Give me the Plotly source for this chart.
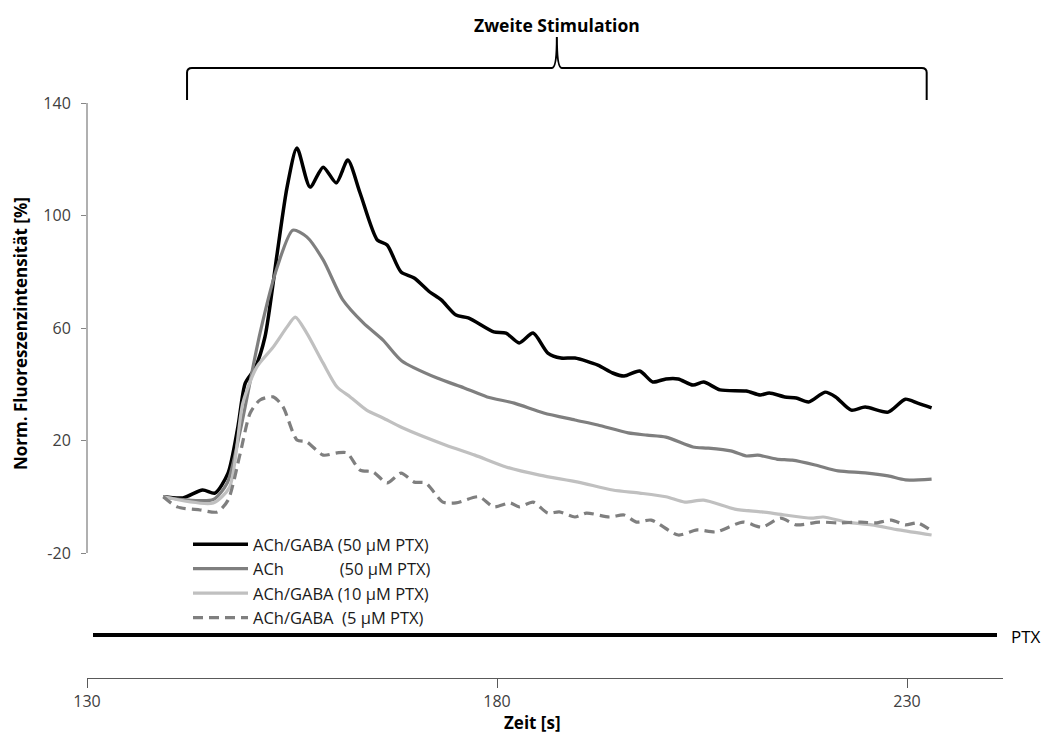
import plotly.graph_objects as go

# ---------------- data (time in s, normalised fluorescence in %) ----------------
t_gaba50 = [139.3, 141.7, 144.1, 145.6, 147.2, 148.4, 149.3, 150.5, 151.7, 153.2, 154.4, 155.6,
            157.2, 158.8, 160.4, 161.8, 163.3, 165.4, 166.6, 168.3, 169.9, 171.8, 173.2, 175.0,
            176.5, 179.6, 181.1, 182.7, 184.4, 186.2, 187.8, 189.5, 192.3, 194.1, 195.5, 197.4,
            199.0, 200.6, 202.1, 203.9, 205.2, 207.2, 210.4, 212.1, 213.2, 215.1, 216.5, 218.0,
            220.0, 221.3, 223.2, 224.9, 227.7, 229.8, 231.3, 233.0]
v_gaba50 = [0, -0.4, 2.4, 1.3, 8.4, 24.8, 40.4, 45.8, 56.8, 86.7, 110.1, 124,
            110.1, 117.2, 111.6, 119.7, 108, 91.3, 89.5, 79.9, 77.8, 72.8, 70, 64.6,
            63.6, 58.6, 58.2, 54.7, 58.2, 51.1, 49.3, 49.3, 46.8, 44, 42.9, 44.7,
            40.8, 41.9, 41.9, 39.7, 40.8, 38, 37.6, 36.2, 36.9, 35.5, 35.1, 33.7,
            37.2, 35.5, 30.8, 31.9, 30.1, 34.7, 33.3, 31.6]

t_ach50 = [139.3, 141.7, 145.4, 147.1, 148.7, 151.1, 153.2, 155.1, 156.8, 158.8, 161.2, 163.7,
           166.1, 168.4, 172.7, 176.0, 178.8, 182.1, 185.7, 189.5, 192.3, 196.0, 198.3, 200.6,
           203.9, 205.7, 208.5, 210.4, 211.8, 214.1, 216.0, 218.8, 221.6, 224.9, 227.7, 229.8, 233.0]
v_ach50 = [0, -1, -1, 4.9, 23.7, 58.2, 81.7, 94.8, 92.4, 84.2, 70, 61.8,
           55.7, 48.3, 42.2, 38.7, 35.5, 33.3, 29.8, 27.3, 25.5, 22.7, 21.9, 21.2,
           17.7, 17.3, 16.3, 14.5, 14.8, 13.4, 13, 11.3, 9.2, 8.5, 7.4, 6, 6.3]

t_gaba10 = [139.3, 145.4, 147.4, 149.0, 150.7, 152.7, 154.4, 155.4, 156.8, 158.8, 160.5, 162.1,
            164.1, 166.1, 168.4, 173.7, 177.3, 181.1, 185.2, 189.9, 194.1, 197.4, 200.6, 202.9,
            205.2, 209.0, 212.3, 215.1, 218.3, 219.8, 222.6, 225.7, 229.0, 233.0]
v_gaba10 = [0, -2.2, 3.5, 33.3, 46.1, 53.2, 60.4, 63.9, 58.2, 47.5, 39, 35.5,
            30.8, 28, 24.6, 18.4, 14.8, 10.6, 7.7, 5.2, 2.4, 1.3, 0, -1.9,
            -1.2, -4.4, -5.4, -6.5, -7.6, -7.2, -9, -10, -11.8, -13.6]

t_gaba5 = [139.3, 141.0, 143.8, 145.9, 147.2, 148.7, 149.9, 151.1, 152.7, 153.9, 155.6, 156.8,
           158.8, 160.5, 161.7, 163.3, 164.9, 166.6, 168.3, 169.9, 171.3, 173.4, 175.0, 177.8,
           179.6, 181.6, 182.7, 184.4, 186.2, 187.6, 189.5, 190.9, 193.7, 195.5, 197.0, 198.8,
           202.1, 204.4, 206.7, 210.0, 212.3, 214.6, 216.5, 219.3, 221.6, 224.4, 226.2, 228.1,
           229.8, 231.3, 233.0]
v_gaba5 = [0, -3.6, -4.7, -5.4, -1.2, 15.6, 29.8, 34.4, 35.5, 32, 20.2, 19.5,
           14.8, 15.6, 15.6, 9.5, 8.8, 4.9, 8.4, 5.2, 4.9, -1.9, -2.2, 0,
           -3.6, -2.2, -3.6, -1.9, -5.8, -5.4, -7.2, -5.8, -7.2, -6.5, -9, -8.3,
           -13.6, -11.8, -12.5, -9, -10.8, -7.6, -10, -9, -9.3, -9, -9.3, -8.3,
           -10, -9.3, -12.1]

names = ["ACh/GABA (50 µM PTX)",
         "ACh" + "\u00a0" * 13 + "(50 µM PTX)",
         "ACh/GABA (10 µM PTX)",
         "ACh/GABA\u00a0\u00a0(5 µM PTX)"]

x_ticks = [130, 180, 230]
y_ticks = [-20, 20, 60, 100, 140]

stim_start, stim_end = 142.2, 232.4
stim_label = "Zweite Stimulation"
ptx_label = "PTX"

FONT = "Open Sans"

fig = go.Figure()
series = [
    (t_gaba50, v_gaba50, names[0], "#000000", 3.5, "solid"),
    (t_ach50, v_ach50, names[1], "#7f7f7f", 3.2, "solid"),
    (t_gaba10, v_gaba10, names[2], "#c0c0c0", 3.2, "solid"),
    (t_gaba5, v_gaba5, names[3], "#7f7f7f", 3.2, "10px,6px"),
]
for tx, vy, nm, col, w, dash in series:
    fig.add_trace(go.Scatter(x=tx, y=vy, name=nm, mode="lines",
                             line=dict(color=col, width=w, dash=dash,
                                       shape="spline", smoothing=0.7)))

# pixel geometry helpers (paper coordinates)
H_PLOT = 575.0
def py(p):  # pixel y -> paper y
    return (678 - p) / H_PLOT

mid = (stim_start + stim_end) / 2
y_end, y_h, y_tip = py(100), py(68), py(37)
r = 0.6
ry = 0.008
brace = (f"M{stim_start},{y_end} L{stim_start},{y_h - ry} "
         f"Q{stim_start},{y_h} {stim_start + r},{y_h} "
         f"L{mid - r},{y_h} Q{mid},{y_h} {mid},{y_tip} "
         f"Q{mid},{y_h} {mid + r},{y_h} "
         f"L{stim_end - r},{y_h} Q{stim_end},{y_h} {stim_end},{y_h - ry} "
         f"L{stim_end},{y_end}")

shapes = [
    dict(type="path", xref="x", yref="paper", path=brace,
         line=dict(color="#000000", width=2)),
    # y axis line only across the labelled range
    dict(type="line", xref="paper", yref="y", x0=0, x1=0, y0=y_ticks[0], y1=y_ticks[-1],
         line=dict(color="#868686", width=1.3)),
    # PTX application bar
    dict(type="line", xref="paper", yref="paper", x0=(93 - 87) / 916, x1=(997 - 87) / 916,
         y0=py(635), y1=py(635), line=dict(color="#000000", width=4)),
]

annotations = [
    dict(text=f"<b>{stim_label}</b>", xref="x", yref="paper", x=mid, y=py(25),
         showarrow=False, font=dict(family=FONT, size=17.5, color="#000000"),
         xanchor="center", yanchor="middle"),
    dict(text=ptx_label, xref="paper", yref="paper", x=(1009 - 87) / 916, y=py(636),
         showarrow=False, font=dict(family=FONT, size=17, color="#000000"),
         xanchor="left", yanchor="middle"),
    dict(text="<b>Norm. Fluoreszenzintensität [%]</b>", xref="paper", yref="paper",
         x=(20 - 87) / 916, y=py(334), textangle=-90, showarrow=False,
         font=dict(family=FONT, size=17, color="#000000"),
         xanchor="center", yanchor="middle"),
    dict(text="<b>Zeit [s]</b>", xref="paper", yref="paper",
         x=(532 - 87) / 916, y=py(722), showarrow=False,
         font=dict(family=FONT, size=17, color="#000000"),
         xanchor="center", yanchor="middle"),
]

fig.update_layout(
    width=1046, height=736,
    margin=dict(l=87, r=43, t=103, b=58, pad=0),
    paper_bgcolor="white", plot_bgcolor="white",
    font=dict(family=FONT, color="#404040"),
    showlegend=True,
    legend=dict(x=(188 - 87) / 916, y=py(527), xanchor="left", yanchor="top",
                bgcolor="rgba(0,0,0,0)", borderwidth=0, itemwidth=55,
                font=dict(family=FONT, size=16.5, color="#1a1a1a"),
                tracegroupgap=0, traceorder="normal"),
    shapes=shapes,
    annotations=annotations,
    xaxis=dict(range=[130, 130 + 916 / 8.2], tickvals=x_ticks, ticktext=[str(v) for v in x_ticks],
               showgrid=False, zeroline=False, showline=True, linecolor="#595959", linewidth=1.3,
               ticks="outside", ticklen=9, tickcolor="#595959", tickwidth=1.3,
               tickfont=dict(family=FONT, size=16, color="#404040")),
    yaxis=dict(range=[140 - 575 / 2.8125, 140], tickvals=y_ticks, ticktext=[str(v) for v in y_ticks],
               showgrid=False, zeroline=False, showline=False,
               ticks="outside", ticklen=5, tickcolor="#868686", tickwidth=1.3,
               ticklabelstandoff=7,
               tickfont=dict(family=FONT, size=16, color="#404040")),
)

fig.write_html("out.html")
